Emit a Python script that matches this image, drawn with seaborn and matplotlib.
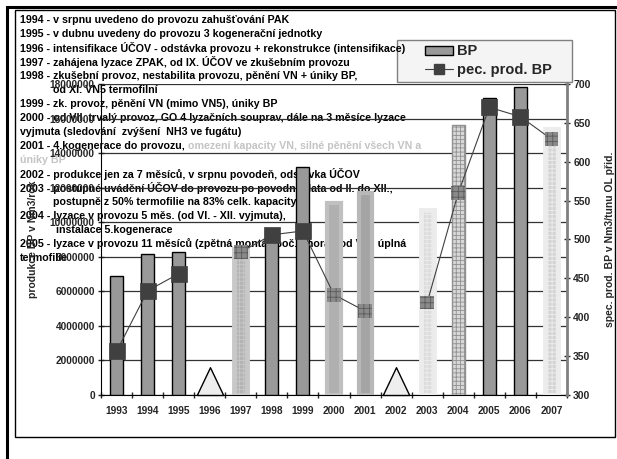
import numpy as np
import matplotlib
matplotlib.use('Agg')
import matplotlib.pyplot as plt
from matplotlib.patches import Rectangle
from matplotlib.lines import Line2D
from matplotlib.path import Path
import seaborn as sns

# data
years = ['1993', '1994', '1995', '1996', '1997', '1998', '1999', '2000',
         '2001', '2002', '2003', '2004', '2005', '2006', '2007']
bp_prod = [6.9e6, 8.15e6, 8.3e6, np.nan, 8.45e6, 9.55e6, 13.2e6, 11.1e6,
           11.7e6, np.nan, 10.7e6, 15.65e6, 17.2e6, 17.85e6, 15.4e6]
spec_prod = [356, 434, 456, np.nan, 484, 506, 511, 429,
             408, np.nan, 419, 560, 670, 658, 629]
pause_years = ['1996', '2002']
special_years = ['1997', '2000', '2001', '2003', '2004', '2007']

notes = [
    ('1994 - v srpnu uvedeno do provozu zahušťování PAK', ''),
    ('1995 - v dubnu uvedeny do provozu 3 kogenerační jednotky', ''),
    ('1996 - intensifikace ÚČOV - odstávka provozu + rekonstrukce (intensifikace)', ''),
    ('1997 - zahájena lyzace ZPAK, od IX. ÚČOV ve zkušebním provozu', ''),
    ('1998 - zkušební provoz, nestabilita provozu, pěnění VN + úniky BP,', ''),
    ('           od XI. VN5 termofilní', ''),
    ('1999 - zk. provoz, pěnění VN (mimo VN5), úniky BP', ''),
    ('2000 - od VII. trvalý provoz, GO 4 lyzačních souprav, dále na 3 měsíce lyzace', ''),
    ('vyjmuta (sledování  zvýšení  NH3 ve fugátu)', ''),
    ('2001 - 4.kogenerace do provozu, ', 'omezení kapacity VN, silné pěnění všech VN a'),
    ('', 'úniky BP'),
    ('2002 - produkce jen za 7 měsíců, v srpnu povodeň, odstávka ÚČOV', ''),
    ('2003 - postupné uvádění ÚČOV do provozu po povodni, data od II. do XII.,', ''),
    ('           postupně z 50% termofilie na 83% celk. kapacity', ''),
    ('2004 - lyzace v provozu 5 měs. (od VI. - XII. vyjmuta),', ''),
    ('            instalace 5.kogenerace', ''),
    ('2005 - lyzace v provozu 11 měsíců (zpětná montáž poč. února), od VIII. úplná', ''),
    ('termofilie', ''),
]

sns.set_style('white')
plt.rcParams['font.family'] = ['Liberation Sans', 'DejaVu Sans']
plt.rcParams['font.weight'] = 'bold'
plt.rcParams['hatch.linewidth'] = 0.6

W, H = 617, 459
fig = plt.figure(figsize=(W / 100, H / 100), dpi=100)
fig.patch.set_facecolor('white')

# frames
fig.add_artist(Rectangle((7 / W, -0.1), 1.2, 1 - 7 / H + 0.1, transform=fig.transFigure,
                         fill=False, lw=2.2, ec='black', zorder=5))
fig.add_artist(Rectangle((15 / W, 1 - 437 / H), (615 - 15) / W, (437 - 10) / H,
                         transform=fig.transFigure, fill=False, lw=1.0, ec='black', zorder=5))

ax = fig.add_axes([101 / W, 1 - 395 / H, (567 - 101) / W, (395 - 84) / H])
ax.patch.set_alpha(0)

# legend frame (under the note text, like in the original)
fig.add_artist(Rectangle((397 / W, 1 - 82 / H), (572 - 397) / W, (82 - 40) / H,
                         transform=fig.transFigure, fc='#f4f4f4', ec='#808080', lw=1, zorder=-2))

# annotation text block (behind the plot)
fs_note = 7.65
renderer = fig.canvas.get_renderer()
for i, (black, grey) in enumerate(notes):
    y = 1 - (20 + 14 * i) / H
    x = 20 / W
    if black:
        t = fig.text(x, y, black, fontsize=fs_note, fontweight='bold', va='center',
                     color='black', zorder=-1)
        x = t.get_window_extent(renderer).x1 / W
    if grey:
        fig.text(x, y, grey, fontsize=fs_note, fontweight='bold', va='center',
                 color='#c4c4c4', zorder=-1)

# bars
sns.barplot(x=years, y=bp_prod, ax=ax, width=0.42, color='#999999',
            edgecolor='black', linewidth=1, saturation=1, zorder=3)
bar_styles = {
    '1997': dict(fc='#b4b4b4', ec='#c8c8c8', lw=3.5, hatch='++++'),
    '2000': dict(fc='#b0b0b0', ec='#c0c0c0', lw=3, hatch=None),
    '2001': dict(fc='#a4a4a4', ec='#b8b8b8', lw=3, hatch=None),
    '2003': dict(fc='#dcdcdc', ec='#ececec', lw=3.5, hatch='++++'),
    '2004': dict(fc='#d8d8d8', ec='#909090', lw=1, hatch='++++'),
    '2007': dict(fc='#d4d4d4', ec='#ececec', lw=3.5, hatch='++++'),
}
for patch in ax.patches:
    k = int(round(patch.get_x() + patch.get_width() / 2))
    yr = years[k]
    if yr in bar_styles:
        st = bar_styles[yr]
        patch.set_facecolor(st['fc'])
        patch.set_edgecolor(st['ec'])
        patch.set_linewidth(st['lw'])
        if st['hatch']:
            patch.set_hatch(st['hatch'])

# pause triangles
tri = Path([(-0.5, 0), (0.5, 0), (0, 1.05), (-0.5, 0)])
pos = {yr: i for i, yr in enumerate(years)}
ax.plot([pos[y] for y in pause_years], [0] * len(pause_years), ls='none', marker=tri,
        ms=40, mfc='#eeeeee', mec='black', mew=1, clip_on=False, zorder=4)

ax.set_ylim(0, 18e6)
ax.set_xlim(-0.5, len(years) - 0.5)
ax.set_yticks(np.arange(0, 18e6 + 1, 2e6))
ax.set_yticklabels([f'{int(v)}' for v in np.arange(0, 18e6 + 1, 2e6)])
ax.yaxis.grid(True, color='#333333', lw=0.9, zorder=0)
ax.set_axisbelow(True)
ax.tick_params(axis='y', labelsize=7.3, direction='inout', length=5, width=1, left=True, pad=2)
ax.tick_params(axis='x', labelsize=7.3, length=0, pad=8)
ax.set_xticks(np.arange(-0.5, len(years), 1), minor=True)
ax.tick_params(axis='x', which='minor', direction='inout', length=5, width=1, bottom=True)
for lab in ax.get_xticklabels() + ax.get_yticklabels():
    lab.set_fontweight('bold')
for s in ['top', 'right']:
    ax.spines[s].set_visible(False)
ax.spines['left'].set_color('black')
ax.spines['bottom'].set_color('black')
ax.set_ylabel('produkce BP v Nm3/rok', fontsize=7.5, fontweight='bold')
ax.yaxis.set_label_coords(-0.135, 0.5)

# specific production line on right axis
ax2 = ax.twinx()
ax2.patch.set_alpha(0)
idx = np.arange(len(years))
ax2.plot(idx, spec_prod, color='#404040', lw=0.8, zorder=3)
normal = [i for i, y in enumerate(years) if y not in special_years and not np.isnan(spec_prod[i])]
special = [i for i, y in enumerate(years) if y in special_years]
sns.scatterplot(x=idx[normal], y=np.array(spec_prod)[normal], ax=ax2, marker='s', s=130,
                color='#404040', edgecolor='#404040', linewidth=0.5, zorder=4)
sns.scatterplot(x=idx[special], y=np.array(spec_prod)[special], ax=ax2, marker='s', s=100,
                color='#8a8a8a', edgecolor='#5a5a5a', linewidth=0, hatch='+++', zorder=4)
ax2.set_ylim(300, 700)
ax2.set_yticks(np.arange(300, 701, 50))
ax2.tick_params(axis='y', labelsize=7.5, direction='inout', length=5, width=1, right=True, pad=2)
for lab in ax2.get_yticklabels():
    lab.set_fontweight('bold')
for s in ['top', 'left', 'bottom']:
    ax2.spines[s].set_visible(False)
ax2.spines['right'].set_color('#808080')
ax2.spines['right'].set_linewidth(2)
ax2.set_ylabel('spec. prod. BP v Nm3/tunu OL přid.', fontsize=7.5, fontweight='bold',
               rotation=90)
ax2.yaxis.set_label_coords(1.0815, 0.5)

# legend entries
handles = [Rectangle((0, 0), 1, 1, fc='#999999', ec='black', lw=1),
           Line2D([], [], color='#404040', lw=0.8, marker='s', ms=7, mfc='#404040', mec='#404040')]
leg = fig.legend(handles, ['BP', 'pec. prod. BP'], loc='upper left',
                 bbox_to_anchor=(421 / W, 1 - 40 / H), prop={'size': 10.5, 'weight': 'bold'},
                 frameon=False, handlelength=1.9, handleheight=0.55, borderpad=0.3,
                 borderaxespad=0, labelspacing=0.3, handletextpad=0.25)
leg.set_zorder(7)

fig.savefig('out.png', dpi=100)
